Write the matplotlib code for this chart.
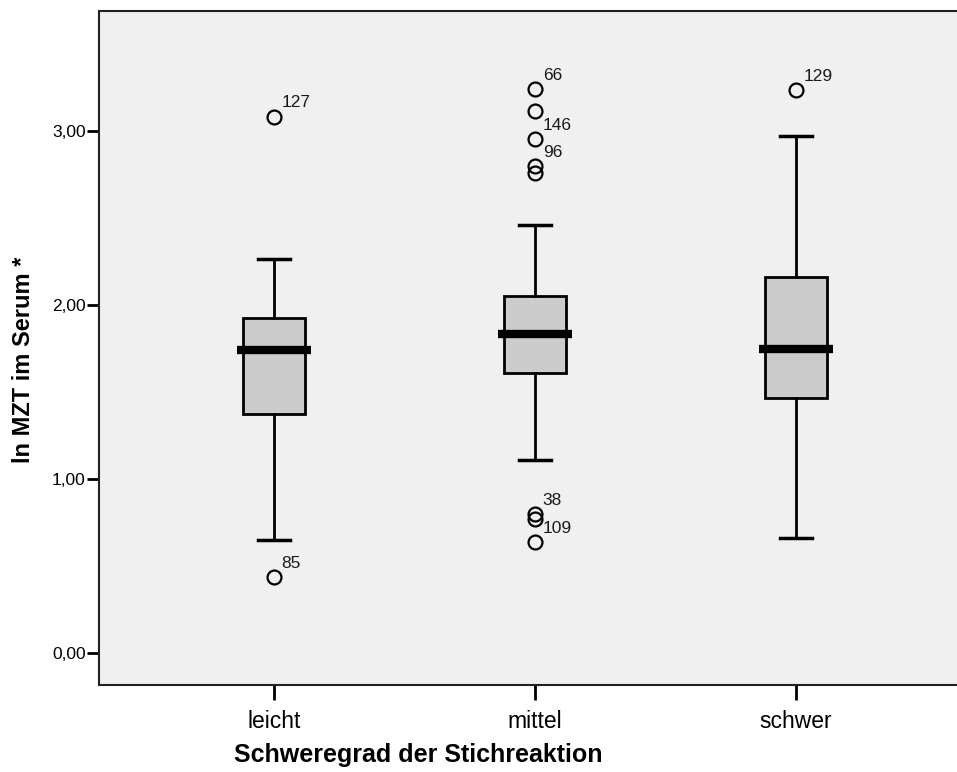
import matplotlib
matplotlib.use("Agg")
import matplotlib.pyplot as plt

plt.rcParams["font.family"] = ["Liberation Sans", "DejaVu Sans"]

# Group summaries: quartiles, medians and whisker ends per severity grade
categories = ["leicht", "mittel", "schwer"]
q1 = [1.372, 1.609, 1.466]
medians = [1.741, 1.832, 1.749]
q3 = [1.927, 2.052, 2.161]
whisker_low = [0.649, 1.107, 0.661]
whisker_high = [2.264, 2.460, 2.971]

# Outlying values per group, with case numbers where they are shown
outliers_leicht = [3.082, 0.437]
outliers_mittel = [3.241, 3.115, 2.952, 2.799, 2.757, 0.797, 0.768, 0.636]
outliers_schwer = [3.236]
outlier_cases = {
    0: [(3.082, "127"), (0.437, "85")],
    1: [(3.241, "66"), (2.952, "146"), (2.799, "96"), (0.797, "38"), (0.636, "109")],
    2: [(3.236, "129")],
}

yticks = [0.0, 1.0, 2.0, 3.0]
ytick_labels = ["0,00", "1,00", "2,00", "3,00"]

fliers = [outliers_leicht, outliers_mittel, outliers_schwer]
stats = []
for i in range(len(categories)):
    stats.append(dict(q1=q1[i], med=medians[i], q3=q3[i],
                      whislo=whisker_low[i], whishi=whisker_high[i],
                      fliers=fliers[i], label=categories[i]))

fig = plt.figure(figsize=(9.57, 7.72), dpi=100)
ax = fig.add_axes([99 / 957, 1 - 685 / 772, 872 / 957, 674 / 772])
ax.set_facecolor("#f0f0f0")

positions = [1, 2, 3]
box_w = 0.241
res = ax.bxp(stats, positions=positions, widths=box_w, capwidths=0.123,
             patch_artist=True, showfliers=True,
             boxprops=dict(facecolor="#cccccc", edgecolor="black", linewidth=2.0),
             whiskerprops=dict(color="black", linewidth=2.0),
             capprops=dict(color="black", linewidth=2.5),
             medianprops=dict(color="black", linewidth=6, solid_capstyle="butt"),
             flierprops=dict(marker="o", markersize=10, markerfacecolor="none",
                             markeredgecolor="black", markeredgewidth=1.6,
                             linestyle="none"))

# Median bars reach slightly past the box edges
for pos, line in zip(positions, res["medians"]):
    half = box_w / 2 + 0.02
    line.set_xdata([pos - half, pos + half])
    line.set_zorder(3)

# Case numbers next to selected outliers
for gi, items in outlier_cases.items():
    for val, case in items:
        ax.annotate(case, xy=(positions[gi], val), xytext=(5.5, 10),
                    textcoords="offset points", ha="left", va="center",
                    fontsize=12.5, color="#1a1a1a")

ax.set_xlim(1 - 175 / 261, 3 + 175 / 261)
ax.set_ylim(-32 / 174, 642 / 174)

ax.set_yticks(yticks)
ax.set_yticklabels(ytick_labels, fontsize=12.5)
ax.set_xticks(positions)
ax.set_xticklabels(categories, fontsize=16.5)

ax.tick_params(axis="y", direction="out", length=8.5, width=2, pad=1)
ax.tick_params(axis="x", direction="out", length=11, width=2, pad=7)

for side in ["left", "top", "bottom", "right"]:
    ax.spines[side].set_linewidth(1.5)
    ax.spines[side].set_color("#222222")

ax.set_xlabel("Schweregrad der Stichreaktion", fontsize=18, fontweight="bold",
              va="center")
ax.xaxis.set_label_coords(0.366, -0.104)
ax.set_ylabel("ln MZT im Serum *", fontsize=17, fontweight="bold", va="center")
ax.yaxis.set_label_coords(-0.087, 0.482)

fig.savefig("out.png", dpi=100, facecolor="white")
